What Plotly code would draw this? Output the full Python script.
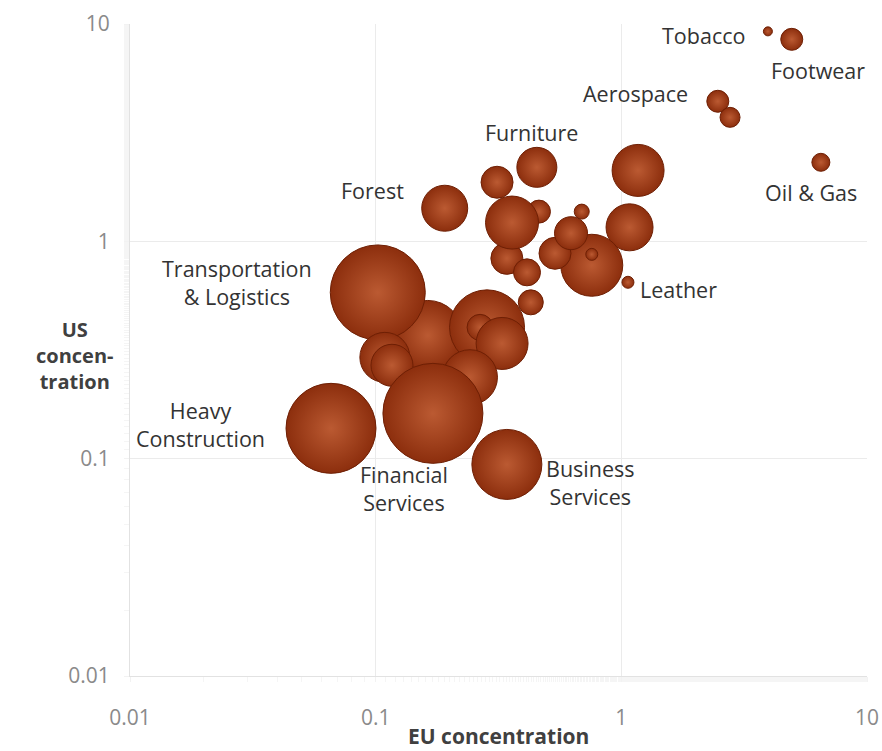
import numpy as np
import plotly.graph_objects as go

# Bubble data (draw order): EU concentration, US concentration, bubble size
eu = [3.95, 4.94, 2.47, 2.77, 6.49, 1.17, 1.08, 0.69, 0.453, 0.312, 0.191,
      0.462, 0.342, 0.359, 0.413, 0.758, 0.537, 0.624, 0.758, 1.064, 0.428,
      0.163, 0.102, 0.284, 0.266, 0.327, 0.109, 0.1165, 0.242, 0.171, 0.0658, 0.342]
us = [9.25, 8.5, 4.41, 3.72, 2.31, 2.12, 1.16, 1.37, 2.19, 1.87, 1.42,
      1.37, 0.835, 1.22, 0.72, 0.776, 0.881, 1.09, 0.871, 0.648, 0.524,
      0.369, 0.582, 0.402, 0.402, 0.339, 0.2925, 0.269, 0.237, 0.1616, 0.1379, 0.0941]
size = [9, 22, 22, 20, 18, 52, 47, 15, 40, 32, 46,
        23, 32, 53, 27, 62, 32, 33, 12, 12, 25,
        70, 95, 75, 26, 52, 50, 42, 55, 100, 90, 70]

# Labels and their anchor points (in data units)
label_text = ["Tobacco", "Footwear", "Aerospace", "Oil & Gas", "Furniture", "Forest",
              "Transportation<br>& Logistics", "Heavy<br>Construction",
              "Financial<br>Services", "Business<br>Services", "Leather"]
label_x = [2.17, 6.31, 1.146, 5.91, 0.432, 0.0975, 0.02726, 0.01945, 0.1303, 0.7516, 1.716]
label_y = [8.87, 6.12, 4.80, 1.68, 3.17, 1.717, 0.648, 0.1438, 0.0730, 0.0778, 0.601]

tick_vals = [0.01, 0.1, 1, 10]
tick_text = ["0.01", "0.1", "1", "10"]

fig = go.Figure()
fig.add_trace(go.Scatter(
    x=eu, y=us, mode="markers",
    marker=dict(size=size, sizemode="diameter", sizeref=1,
                color="#8c2e0d",
                gradient=dict(type="radial", color="#bb5a32"),
                line=dict(color="#6e1f04", width=1),
                opacity=1),
    hoverinfo="skip", showlegend=False))

for t, lx, ly in zip(label_text, label_x, label_y):
    fig.add_annotation(x=np.log10(lx), y=np.log10(ly), text=t, showarrow=False,
                       xref="x", yref="y", xanchor="center", yanchor="middle",
                       font=dict(family="Open Sans", size=21.5, color="#333333"))

fig.add_annotation(x=-0.0746, y=0.492, xref="paper", yref="paper",
                   xanchor="center", yanchor="middle",
                   text="<b>US<br>concen-<br>tration</b>", showarrow=False,
                   font=dict(family="Open Sans", size=20, color="#404040"))
fig.add_annotation(x=0.5, y=-0.092, xref="paper", yref="paper",
                   xanchor="center", yanchor="middle",
                   text="<b>EU concentration</b>", showarrow=False,
                   font=dict(family="Open Sans", size=21, color="#404040"))

axis_common = dict(type="log", tickvals=tick_vals, ticktext=tick_text,
                   showgrid=True, gridcolor="#ebebeb", gridwidth=1,
                   showline=True, linecolor="#e2e2e2", linewidth=1,
                   zeroline=False,
                   ticks="outside", ticklen=5, tickcolor="#f2f2f2",
                   minor=dict(ticks="outside", ticklen=5, tickcolor="#f5f5f5", showgrid=False),
                   tickfont=dict(family="Open Sans", size=21, color="#8a8a8a"))

fig.update_xaxes(range=[-2, 1], ticklabelstandoff=18, automargin=False, **axis_common)
fig.update_yaxes(range=[-2, 1], ticklabelstandoff=10, automargin=False, **axis_common)

fig.update_layout(width=882, height=751,
                  margin=dict(l=130, r=15, t=24, b=75, autoexpand=False),
                  paper_bgcolor="white", plot_bgcolor="white")

fig.write_html("out.html", config={"displayModeBar": False},
               post_script="document.body.style.margin='0';document.body.style.overflow='hidden';")
